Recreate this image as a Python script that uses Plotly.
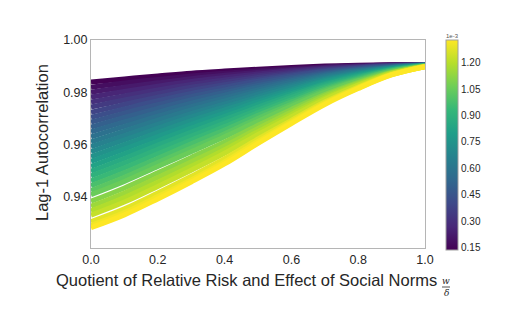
import plotly.graph_objects as go
from plotly.colors import sample_colorscale

# Quotient of relative risk and effect of social norms (w / delta)
X_GRID = [0.0, 0.1, 0.2, 0.3, 0.4, 0.5, 0.6, 0.7, 0.8, 0.9, 1.0]

# Colour parameter of each run (units of 1e-3)
PARAM = [0.14, 0.18, 0.22, 0.26, 0.30, 0.34, 0.38, 0.42, 0.46, 0.50,
         0.54, 0.58, 0.62, 0.66, 0.70, 0.74, 0.78, 0.82, 0.86, 0.90,
         0.94, 0.98, 1.02, 1.055, 1.11, 1.15, 1.19, 1.225, 1.28, 1.31, 1.33]

# Lag-1 autocorrelation of each run along X_GRID
AUTOCORR = [
    [0.9839, 0.9851, 0.9862, 0.9873, 0.9881, 0.9888, 0.9895, 0.9900, 0.9903, 0.9905, 0.9906],
    [0.9819, 0.9835, 0.9849, 0.9862, 0.9873, 0.9882, 0.9890, 0.9897, 0.9901, 0.9904, 0.9906],
    [0.9800, 0.9819, 0.9836, 0.9852, 0.9865, 0.9876, 0.9886, 0.9895, 0.9900, 0.9904, 0.9905],
    [0.9781, 0.9803, 0.9823, 0.9841, 0.9856, 0.9870, 0.9882, 0.9892, 0.9898, 0.9903, 0.9905],
    [0.9762, 0.9786, 0.9809, 0.9830, 0.9847, 0.9863, 0.9877, 0.9889, 0.9897, 0.9902, 0.9905],
    [0.9743, 0.9770, 0.9795, 0.9819, 0.9838, 0.9856, 0.9872, 0.9886, 0.9895, 0.9901, 0.9905],
    [0.9723, 0.9753, 0.9781, 0.9807, 0.9829, 0.9849, 0.9867, 0.9882, 0.9893, 0.9900, 0.9904],
    [0.9704, 0.9736, 0.9767, 0.9795, 0.9819, 0.9842, 0.9862, 0.9879, 0.9891, 0.9899, 0.9904],
    [0.9685, 0.9720, 0.9752, 0.9783, 0.9809, 0.9834, 0.9856, 0.9875, 0.9888, 0.9898, 0.9904],
    [0.9666, 0.9703, 0.9738, 0.9771, 0.9799, 0.9826, 0.9850, 0.9871, 0.9886, 0.9897, 0.9904],
    [0.9648, 0.9686, 0.9723, 0.9758, 0.9789, 0.9818, 0.9844, 0.9867, 0.9884, 0.9896, 0.9903],
    [0.9629, 0.9669, 0.9708, 0.9745, 0.9778, 0.9809, 0.9838, 0.9863, 0.9881, 0.9895, 0.9903],
    [0.9610, 0.9651, 0.9693, 0.9732, 0.9767, 0.9801, 0.9831, 0.9859, 0.9879, 0.9894, 0.9903],
    [0.9591, 0.9634, 0.9677, 0.9718, 0.9755, 0.9792, 0.9825, 0.9854, 0.9876, 0.9893, 0.9903],
    [0.9572, 0.9617, 0.9662, 0.9705, 0.9744, 0.9782, 0.9818, 0.9850, 0.9873, 0.9892, 0.9902],
    [0.9553, 0.9599, 0.9646, 0.9691, 0.9732, 0.9773, 0.9810, 0.9845, 0.9870, 0.9890, 0.9902],
    [0.9535, 0.9582, 0.9630, 0.9677, 0.9720, 0.9763, 0.9803, 0.9840, 0.9867, 0.9889, 0.9902],
    [0.9516, 0.9564, 0.9613, 0.9662, 0.9707, 0.9753, 0.9795, 0.9834, 0.9864, 0.9887, 0.9901],
    [0.9497, 0.9546, 0.9597, 0.9647, 0.9695, 0.9743, 0.9788, 0.9829, 0.9860, 0.9886, 0.9901],
    [0.9479, 0.9528, 0.9581, 0.9632, 0.9682, 0.9732, 0.9780, 0.9823, 0.9857, 0.9885, 0.9901],
    [0.9460, 0.9510, 0.9564, 0.9617, 0.9668, 0.9722, 0.9771, 0.9818, 0.9854, 0.9883, 0.9901],
    [0.9442, 0.9492, 0.9547, 0.9602, 0.9655, 0.9711, 0.9763, 0.9812, 0.9850, 0.9881, 0.9900],
    [0.9423, 0.9474, 0.9530, 0.9586, 0.9641, 0.9700, 0.9754, 0.9806, 0.9846, 0.9880, 0.9900],
    [0.9407, 0.9458, 0.9515, 0.9572, 0.9629, 0.9689, 0.9746, 0.9800, 0.9843, 0.9878, 0.9900],
    [0.9382, 0.9433, 0.9491, 0.9550, 0.9609, 0.9673, 0.9734, 0.9791, 0.9838, 0.9876, 0.9900],
    [0.9363, 0.9414, 0.9473, 0.9533, 0.9594, 0.9661, 0.9724, 0.9785, 0.9834, 0.9874, 0.9899],
    [0.9345, 0.9396, 0.9455, 0.9516, 0.9580, 0.9649, 0.9715, 0.9778, 0.9829, 0.9873, 0.9899],
    [0.9329, 0.9379, 0.9439, 0.9501, 0.9566, 0.9638, 0.9706, 0.9772, 0.9826, 0.9871, 0.9899],
    [0.9304, 0.9353, 0.9414, 0.9478, 0.9545, 0.9621, 0.9692, 0.9762, 0.9820, 0.9868, 0.9898],
    [0.9290, 0.9339, 0.9400, 0.9464, 0.9533, 0.9611, 0.9685, 0.9757, 0.9816, 0.9867, 0.9898],
    [0.9281, 0.9330, 0.9391, 0.9456, 0.9525, 0.9604, 0.9680, 0.9753, 0.9814, 0.9866, 0.9898],
]

X_TICKS = [0.0, 0.2, 0.4, 0.6, 0.8, 1.0]
Y_TICKS = [0.94, 0.96, 0.98, 1.00]
CBAR_TICKS = [0.15, 0.30, 0.45, 0.60, 0.75, 0.90, 1.05, 1.20]

C_MIN, C_MAX = 0.135, 1.33
FONT = "Liberation Sans, Arial, sans-serif"
TEXT = "#262626"
AXIS = "#b5b5b5"

# plot-area geometry in pixels, used to place annotations
W, H = 512, 332
L, R, T, B = 91, 87, 40, 84
PW, PH = W - L - R, H - T - B


def px_x(px):
    return (px - L) / PW


def px_y(py):
    return (H - B - py) / PH


fig = go.Figure()

for c, ys in zip(PARAM, AUTOCORR):
    col = sample_colorscale("Viridis", [(c - C_MIN) / (C_MAX - C_MIN)])[0]
    fig.add_trace(go.Scatter(
        x=X_GRID, y=ys, mode="lines",
        line=dict(color=col, width=5, shape="spline", smoothing=1.0),
        hoverinfo="skip", showlegend=False,
    ))

# colour scale bar
fig.add_trace(go.Scatter(
    x=[None], y=[None], mode="markers", showlegend=False, hoverinfo="skip",
    marker=dict(
        color=[C_MIN, C_MAX], cmin=C_MIN, cmax=C_MAX, colorscale="Viridis",
        showscale=True,
        colorbar=dict(
            x=px_x(446), xanchor="left", xref="paper",
            y=1.0, yanchor="top", len=210, lenmode="pixels",
            thickness=12, outlinewidth=1, outlinecolor="#a0a0a0",
            tickvals=CBAR_TICKS, ticktext=[f"{v:.2f}" for v in CBAR_TICKS],
            ticks="", ticklen=0, xpad=0, ypad=0,
            tickfont=dict(family=FONT, size=10, color=TEXT),
        ),
    ),
))

fig.update_layout(
    width=W, height=H,
    margin=dict(l=L, r=R, t=T, b=B),
    paper_bgcolor="white", plot_bgcolor="white",
    font=dict(family=FONT, color=TEXT),
    xaxis=dict(
        range=[0, 1], tickvals=X_TICKS, ticktext=[f"{v:.1f}" for v in X_TICKS],
        showgrid=False, zeroline=False, showline=True, linecolor=AXIS,
        linewidth=1, mirror=True, ticks="", tickfont=dict(size=12.5, color=TEXT),
    ),
    yaxis=dict(
        range=[0.9203, 1.0], tickvals=Y_TICKS, ticktext=[f"{v:.2f}" for v in Y_TICKS],
        showgrid=False, zeroline=False, showline=True, linecolor=AXIS,
        linewidth=1, mirror=True, ticks="", tickfont=dict(size=12.5, color=TEXT),
    ),
)

# axis titles
fig.add_annotation(
    text="Lag-1 Autocorrelation", textangle=-90, showarrow=False,
    xref="paper", yref="paper", x=px_x(42), y=px_y(143),
    xanchor="center", yanchor="middle",
    font=dict(family=FONT, size=16.5, color=TEXT),
)
fig.add_annotation(
    text="Quotient of Relative Risk and Effect of Social Norms", showarrow=False,
    xref="paper", yref="paper", x=px_x(439), y=px_y(280),
    xanchor="right", yanchor="middle",
    font=dict(family=FONT, size=16.5, color=TEXT),
)
# the w/δ fraction after the title
fig.add_annotation(
    text="<i>w</i>", showarrow=False, xref="paper", yref="paper",
    x=px_x(446), y=px_y(281), xanchor="center", yanchor="middle",
    font=dict(family="DejaVu Serif, serif", size=9, color=TEXT),
)
fig.add_annotation(
    text="<i>δ</i>", showarrow=False, xref="paper", yref="paper",
    x=px_x(446), y=px_y(293), xanchor="center", yanchor="middle",
    font=dict(family="DejaVu Serif, serif", size=9, color=TEXT),
)
fig.add_shape(
    type="line", xref="paper", yref="paper",
    x0=px_x(442), x1=px_x(450), y0=px_y(287), y1=px_y(287),
    line=dict(color=TEXT, width=0.8),
)
# offset label above the colour bar
fig.add_annotation(
    text="1e-3", showarrow=False, xref="paper", yref="paper",
    x=px_x(452), y=px_y(36), xanchor="center", yanchor="middle",
    font=dict(family=FONT, size=6, color="#555555"),
)

fig.write_html("out.html")
